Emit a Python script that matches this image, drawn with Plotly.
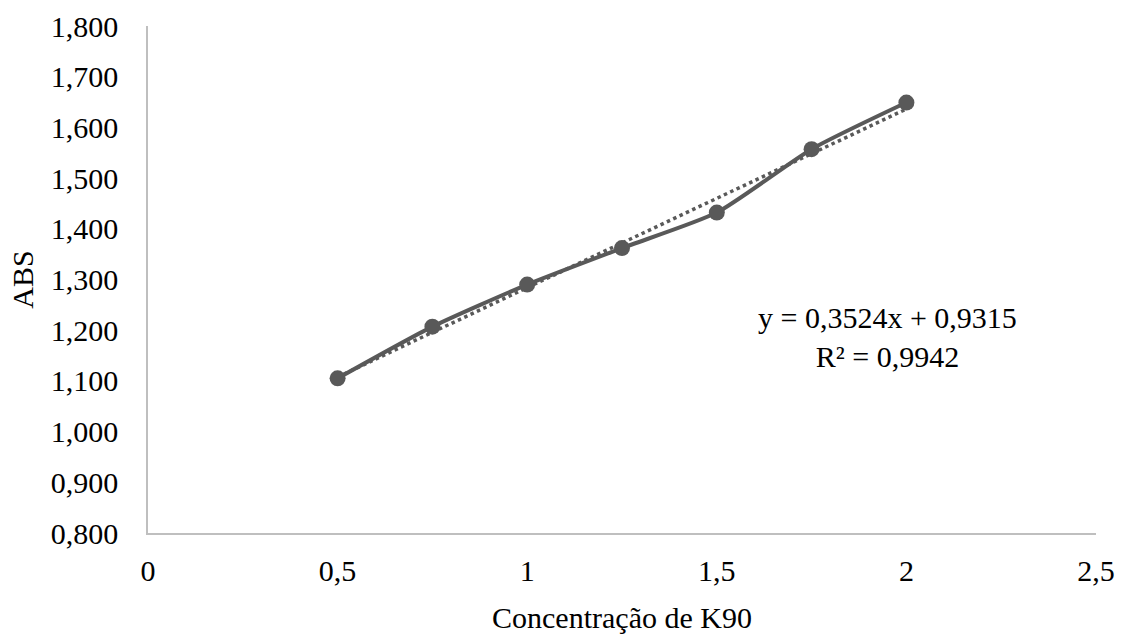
import plotly.graph_objects as go

# Data
concentracao = [0.5, 0.75, 1.0, 1.25, 1.5, 1.75, 2.0]
abs_values = [1.105, 1.207, 1.290, 1.362, 1.432, 1.557, 1.649]

# Trendline coefficients as shown on the chart
slope = 0.3524
intercept = 0.9315
equation_text = "y = 0,3524x + 0,9315<br>R² = 0,9942"

trend_x = [min(concentracao), max(concentracao)]
trend_y = [slope * x + intercept for x in trend_x]

FONT = "Liberation Serif, Times New Roman, serif"
GREY = "#595959"
AXIS = "#BFBFBF"

fig = go.Figure()
fig.add_trace(go.Scatter(
    x=trend_x, y=trend_y, mode="lines",
    line=dict(color=GREY, width=3.5, dash="dot"),
    showlegend=False, hoverinfo="skip",
))
fig.add_trace(go.Scatter(
    x=concentracao, y=abs_values, mode="lines+markers",
    line=dict(color=GREY, width=4, shape="spline", smoothing=0.6),
    marker=dict(color=GREY, size=16),
    showlegend=False,
))

fig.add_annotation(
    x=0.78, y=0.386, xref="paper", yref="paper",
    text=equation_text, showarrow=False, align="center",
    font=dict(family=FONT, size=30, color="black"),
    xanchor="center", yanchor="middle",
)

fig.update_layout(
    width=1127, height=634,
    margin=dict(l=148, r=31, t=26, b=101),
    paper_bgcolor="white", plot_bgcolor="white",
    separators=", ",
    font=dict(family=FONT, size=30, color="black"),
    xaxis=dict(
        range=[0, 2.5], dtick=0.5, tick0=0, automargin=False,
        showgrid=False, zeroline=False,
        showline=True, linecolor=AXIS, linewidth=1.5,
        ticks="", ticklabelstandoff=10,
        title=dict(text="Concentração de K90", standoff=24,
                   font=dict(family=FONT, size=30)),
        tickfont=dict(family=FONT, size=30),
    ),
    yaxis=dict(
        range=[0.8, 1.8], dtick=0.1, tick0=0.8, tickformat=".3f", automargin=False,
        showgrid=False, zeroline=False,
        showline=True, linecolor=AXIS, linewidth=1.5,
        ticks="", ticklabelstandoff=22,
        title=dict(text="ABS", standoff=8,
                   font=dict(family=FONT, size=30)),
        tickfont=dict(family=FONT, size=30),
    ),
)

fig.write_html("out.html")
